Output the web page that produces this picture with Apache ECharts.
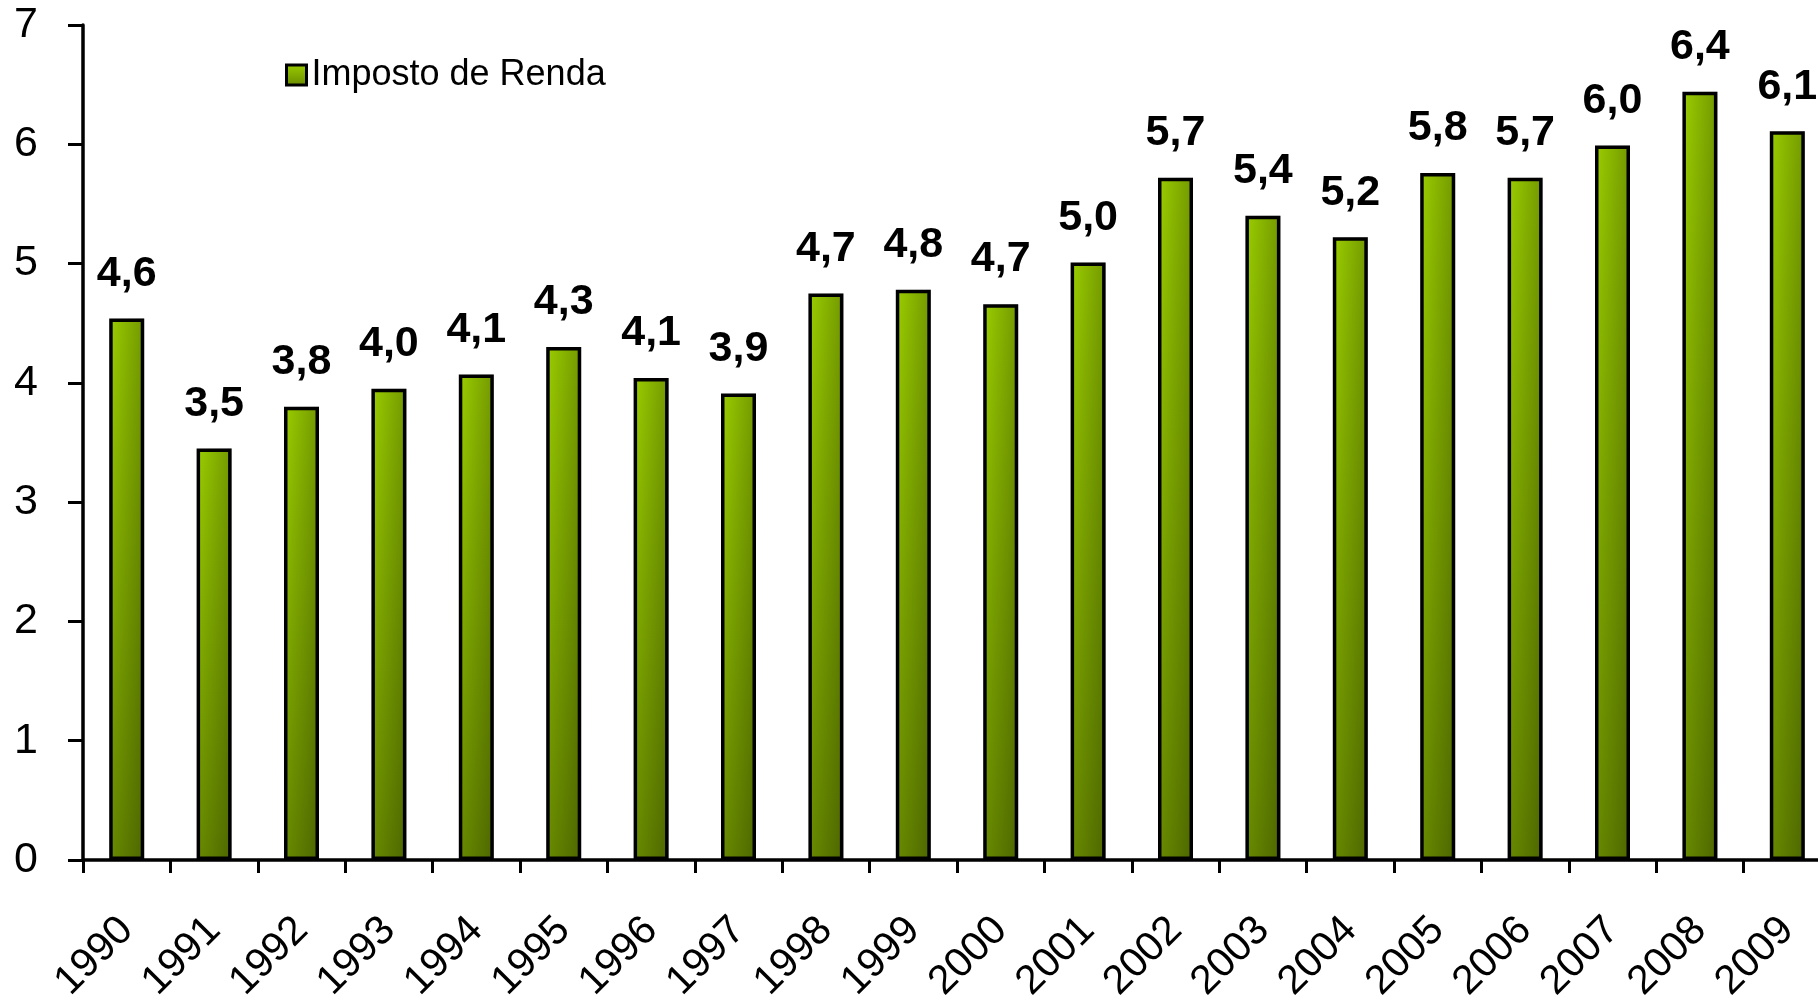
<!DOCTYPE html>
<html>
<head>
<meta charset="utf-8">
<script src="https://cdn.jsdelivr.net/npm/echarts@6/dist/echarts.min.js"></script>
<style>
html,body{margin:0;padding:0;background:#fff;}
#chart{width:1818px;height:1003px;}
</style>
</head>
<body>
<div id="chart"></div>
<script>
var categories = ['1990','1991','1992','1993','1994','1995','1996','1997','1998','1999','2000','2001','2002','2003','2004','2005','2006','2007','2008','2009'];
var seriesName = 'Imposto de Renda';
var values = [4.54, 3.45, 3.80, 3.95, 4.07, 4.30, 4.04, 3.91, 4.75, 4.78, 4.66, 5.01, 5.72, 5.40, 5.22, 5.76, 5.72, 5.99, 6.44, 6.11];
var valueLabels = ['4,6','3,5','3,8','4,0','4,1','4,3','4,1','3,9','4,7','4,8','4,7','5,0','5,7','5,4','5,2','5,8','5,7','6,0','6,4','6,1'];
var yTicks = [0, 1, 2, 3, 4, 5, 6, 7];

var FONT = '"Liberation Sans", Arial, sans-serif';
var barFill = new echarts.graphic.LinearGradient(0, 0, 0, 1, [
  {offset: 0, color: '#9BCE00'},
  {offset: 1, color: '#688A00'}
]);
var barShade = new echarts.graphic.LinearGradient(0, 0, 1, 0, [
  {offset: 0, color: 'rgba(0,0,0,0)'},
  {offset: 1, color: 'rgba(0,0,0,0.26)'}
]);

var chart = echarts.init(document.getElementById('chart'), null, {renderer: 'canvas'});
chart.setOption({
  animation: false,
  backgroundColor: '#ffffff',
  textStyle: {fontFamily: FONT},
  legend: {
    left: 280, top: 52,
    data: [seriesName],
    icon: 'rect',
    itemWidth: 20, itemHeight: 20,
    itemStyle: {borderColor: '#000', borderWidth: 3},
    textStyle: {fontSize: 36, color: '#000', fontFamily: FONT}
  },
  grid: {left: 83, top: 25, right: -13, bottom: 143, containLabel: false, outerBoundsMode: 'none'},
  xAxis: {
    type: 'category',
    data: categories,
    axisLine: {lineStyle: {color: '#000', width: 3.5}},
    axisTick: {show: true, length: 13, lineStyle: {color: '#000', width: 3}},
    axisLabel: {
      interval: 0, rotate: 45, margin: 64,
      align: 'right', verticalAlign: 'middle',
      fontSize: 41, color: '#000', fontFamily: FONT
    },
    splitLine: {show: false}
  },
  yAxis: {
    type: 'value',
    min: yTicks[0], max: yTicks[yTicks.length - 1], interval: 1,
    axisLine: {show: true, lineStyle: {color: '#000', width: 3.5}},
    axisTick: {show: true, length: 15, lineStyle: {color: '#000', width: 3}},
    axisLabel: {margin: 45, fontSize: 43, color: '#000', fontFamily: FONT, padding: [10, 0, 0, 0]},
    splitLine: {show: false}
  },
  series: [{
    name: seriesName,
    type: 'bar',
    data: values,
    barWidth: 35,
    barGap: '-100%',
    z: 2,
    itemStyle: {color: barFill, borderColor: '#000', borderWidth: 3.5},
    label: {
      show: true,
      position: 'top',
      distance: 23,
      fontSize: 43,
      lineHeight: 43,
      fontWeight: 'bold',
      color: '#000',
      fontFamily: FONT,
      formatter: function (p) { return valueLabels[p.dataIndex]; }
    }
  }, {
    name: 'shade',
    type: 'bar',
    data: values,
    barWidth: 35,
    barGap: '-100%',
    z: 3,
    silent: true,
    tooltip: {show: false},
    itemStyle: {color: barShade, borderWidth: 0},
    label: {show: false}
  }]
});
</script>
</body>
</html>
